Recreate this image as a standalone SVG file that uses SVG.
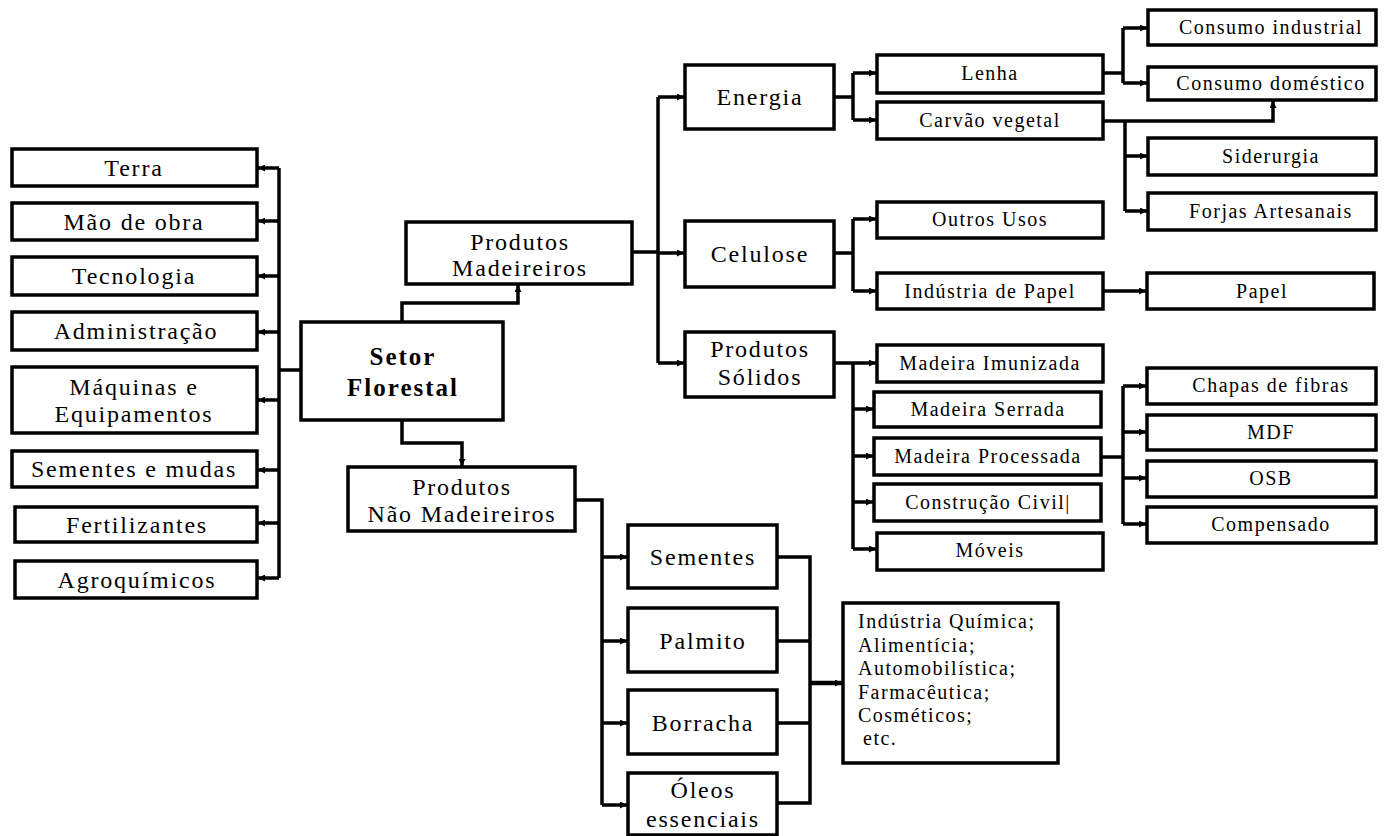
<svg xmlns="http://www.w3.org/2000/svg" width="1384" height="836" viewBox="0 0 1384 836">
<defs>
<marker id="ah" viewBox="0 0 8 8" refX="8" refY="4" markerWidth="7" markerHeight="7" markerUnits="userSpaceOnUse" orient="auto">
<path d="M0,0 L8,4 L0,8 z" fill="#000"/>
</marker>
</defs>
<style>
.n rect{fill:#fff;stroke:#000;stroke-width:3.5}
text{font-family:"Liberation Serif","Times New Roman",serif;fill:#000}
.l{font-size:24px;letter-spacing:1.8px;text-anchor:middle}
.s{font-size:20px;letter-spacing:1.5px;text-anchor:middle}
.b{font-size:25px;font-weight:bold;letter-spacing:2px;text-anchor:middle}
.t{font-size:20px;letter-spacing:1.5px}
#connectors path{fill:none;stroke:#000;stroke-width:3.5}
#connectors .a{marker-end:url(#ah)}
</style>
<rect width="1384" height="836" style="fill:#fff;stroke:none"/>
<g id="connectors">
<path d="M279,168 V578"/>
<path class="a" d="M279,168 H258"/>
<path class="a" d="M279,221 H258"/>
<path class="a" d="M279,276 H258"/>
<path class="a" d="M279,332 H258"/>
<path class="a" d="M279,400 H258"/>
<path class="a" d="M279,470 H258"/>
<path class="a" d="M279,523 H258"/>
<path class="a" d="M279,578 H258"/>
<path d="M279,370 H301"/>
<path class="a" d="M402,322 V303 H518 V285"/>
<path class="a" d="M402,420 V443 H462 V466"/>
<path d="M632,252 H658"/>
<path d="M658,97 V363"/>
<path class="a" d="M658,97 H684"/>
<path class="a" d="M658,253 H684"/>
<path class="a" d="M658,363 H684"/>
<path d="M834,97 H853"/>
<path d="M853,73 V120"/>
<path class="a" d="M853,73 H876"/>
<path class="a" d="M853,120 H876"/>
<path d="M834,253 H853"/>
<path d="M853,219 V291"/>
<path class="a" d="M853,219 H876"/>
<path class="a" d="M853,291 H876"/>
<path class="a" d="M1103,291 H1146"/>
<path d="M834,363 H853"/>
<path d="M853,363 V549"/>
<path class="a" d="M853,363 H876"/>
<path class="a" d="M853,409 H873"/>
<path class="a" d="M853,456 H873"/>
<path class="a" d="M853,502 H873"/>
<path class="a" d="M853,549 H876"/>
<path d="M1101,457 H1123"/>
<path d="M1123,386 V524"/>
<path class="a" d="M1123,386 H1146"/>
<path class="a" d="M1123,432 H1146"/>
<path class="a" d="M1123,478 H1146"/>
<path class="a" d="M1123,524 H1146"/>
<path d="M1103,73 H1123"/>
<path d="M1123,28 V83"/>
<path class="a" d="M1123,28 H1147"/>
<path class="a" d="M1123,83 H1147"/>
<path class="a" d="M1103,121 H1273 V101"/>
<path d="M1125,121 V211"/>
<path class="a" d="M1125,156 H1147"/>
<path class="a" d="M1125,211 H1147"/>
<path d="M575,500 H602 V805"/>
<path class="a" d="M602,557 H627"/>
<path class="a" d="M602,641 H627"/>
<path class="a" d="M602,723 H627"/>
<path class="a" d="M602,805 H627"/>
<path d="M777,557 H810 V803 H777"/>
<path d="M777,641 H810"/>
<path d="M777,723 H810"/>
<path class="a" d="M810,683 H842" style="stroke-width:4.5"/>
</g>
<g id="terra" class="n"><rect x="12" y="149" width="245" height="37"/><text class="l" x="134" y="176">Terra</text></g>
<g id="mao-de-obra" class="n"><rect x="12" y="203" width="245" height="37"/><text class="l" x="134" y="230">Mão de obra</text></g>
<g id="tecnologia" class="n"><rect x="12" y="257" width="245" height="38"/><text class="l" x="134" y="284">Tecnologia</text></g>
<g id="administracao" class="n"><rect x="12" y="312" width="245" height="38"/><text class="l" x="136" y="339">Administração</text></g>
<g id="maquinas" class="n"><rect x="12" y="367" width="245" height="66"/><text class="l" x="134" y="395">Máquinas e</text><text class="l" x="134" y="422">Equipamentos</text></g>
<g id="sementes-mudas" class="n"><rect x="12" y="451" width="245" height="36"/><text class="l" x="134" y="477">Sementes e mudas</text></g>
<g id="fertilizantes" class="n"><rect x="15" y="507" width="242" height="35"/><text class="l" x="137" y="533">Fertilizantes</text></g>
<g id="agroquimicos" class="n"><rect x="15" y="561" width="242" height="37"/><text class="l" x="137" y="588">Agroquímicos</text></g>
<g id="setor-florestal" class="n"><rect x="301" y="322" width="202" height="98"/><text class="b" x="403" y="365">Setor</text><text class="b" x="403" y="396">Florestal</text></g>
<g id="produtos-madeireiros" class="n"><rect x="406" y="222" width="226" height="62"/><text class="l" x="520" y="250">Produtos</text><text class="l" x="520" y="276">Madeireiros</text></g>
<g id="produtos-nao-madeireiros" class="n"><rect x="348" y="467" width="227" height="64"/><text class="l" x="462" y="495">Produtos</text><text class="l" x="462" y="522">Não Madeireiros</text></g>
<g id="energia" class="n"><rect x="685" y="65" width="149" height="64"/><text class="l" x="760" y="105">Energia</text></g>
<g id="celulose" class="n"><rect x="685" y="221" width="149" height="66"/><text class="l" x="760" y="262">Celulose</text></g>
<g id="produtos-solidos" class="n"><rect x="685" y="332" width="149" height="65"/><text class="l" x="760" y="357">Produtos</text><text class="l" x="760" y="385">Sólidos</text></g>
<g id="lenha" class="n"><rect x="877" y="55" width="226" height="38"/><text class="s" x="990" y="80">Lenha</text></g>
<g id="carvao" class="n"><rect x="877" y="102" width="226" height="37"/><text class="s" x="990" y="127">Carvão vegetal</text></g>
<g id="outros-usos" class="n"><rect x="877" y="202" width="226" height="36"/><text class="s" x="990" y="226">Outros Usos</text></g>
<g id="industria-papel" class="n"><rect x="877" y="273" width="226" height="36"/><text class="s" x="990" y="298">Indústria de Papel</text></g>
<g id="papel" class="n"><rect x="1147" y="273" width="227" height="36"/><text class="s" x="1262" y="298">Papel</text></g>
<g id="madeira-imunizada" class="n"><rect x="877" y="345" width="226" height="37"/><text class="s" x="990" y="370">Madeira Imunizada</text></g>
<g id="madeira-serrada" class="n"><rect x="874" y="392" width="227" height="35"/><text class="s" x="988" y="416">Madeira Serrada</text></g>
<g id="madeira-processada" class="n"><rect x="874" y="438" width="227" height="37"/><text class="s" x="988" y="463">Madeira Processada</text></g>
<g id="construcao-civil" class="n"><rect x="874" y="484" width="227" height="37"/><text class="s" x="988" y="509">Construção Civil|</text></g>
<g id="moveis" class="n"><rect x="877" y="533" width="226" height="37"/><text class="s" x="990" y="557">Móveis</text></g>
<g id="chapas" class="n"><rect x="1147" y="368" width="229" height="36"/><text class="s" x="1271" y="392">Chapas de fibras</text></g>
<g id="mdf" class="n"><rect x="1147" y="415" width="229" height="35"/><text class="s" x="1271" y="439">MDF</text></g>
<g id="osb" class="n"><rect x="1147" y="461" width="229" height="36"/><text class="s" x="1271" y="485">OSB</text></g>
<g id="compensado" class="n"><rect x="1147" y="507" width="229" height="36"/><text class="s" x="1271" y="531">Compensado</text></g>
<g id="consumo-industrial" class="n"><rect x="1148" y="10" width="228" height="35"/><text class="s" x="1271" y="34">Consumo industrial</text></g>
<g id="consumo-domestico" class="n"><rect x="1148" y="67" width="228" height="33"/><text class="s" x="1271" y="90">Consumo doméstico</text></g>
<g id="siderurgia" class="n"><rect x="1148" y="138" width="228" height="37"/><text class="s" x="1271" y="163">Siderurgia</text></g>
<g id="forjas" class="n"><rect x="1148" y="193" width="228" height="37"/><text class="s" x="1271" y="218">Forjas Artesanais</text></g>
<g id="sementes" class="n"><rect x="628" y="525" width="149" height="63"/><text class="l" x="703" y="565">Sementes</text></g>
<g id="palmito" class="n"><rect x="628" y="608" width="149" height="64"/><text class="l" x="703" y="649">Palmito</text></g>
<g id="borracha" class="n"><rect x="628" y="690" width="149" height="64"/><text class="l" x="703" y="731">Borracha</text></g>
<g id="oleos" class="n"><rect x="628" y="773" width="149" height="62"/><text class="l" x="703" y="798">Óleos</text><text class="l" x="703" y="827">essenciais</text></g>
<g id="industrias" class="n"><rect x="843" y="603" width="215" height="160"/>
<text class="t" x="858" y="628">Indústria Química;</text>
<text class="t" x="858" y="652">Alimentícia;</text>
<text class="t" x="858" y="675">Automobilística;</text>
<text class="t" x="858" y="699">Farmacêutica;</text>
<text class="t" x="858" y="722">Cosméticos;</text>
<text class="t" x="863" y="745">etc.</text>
</g>
</svg>
